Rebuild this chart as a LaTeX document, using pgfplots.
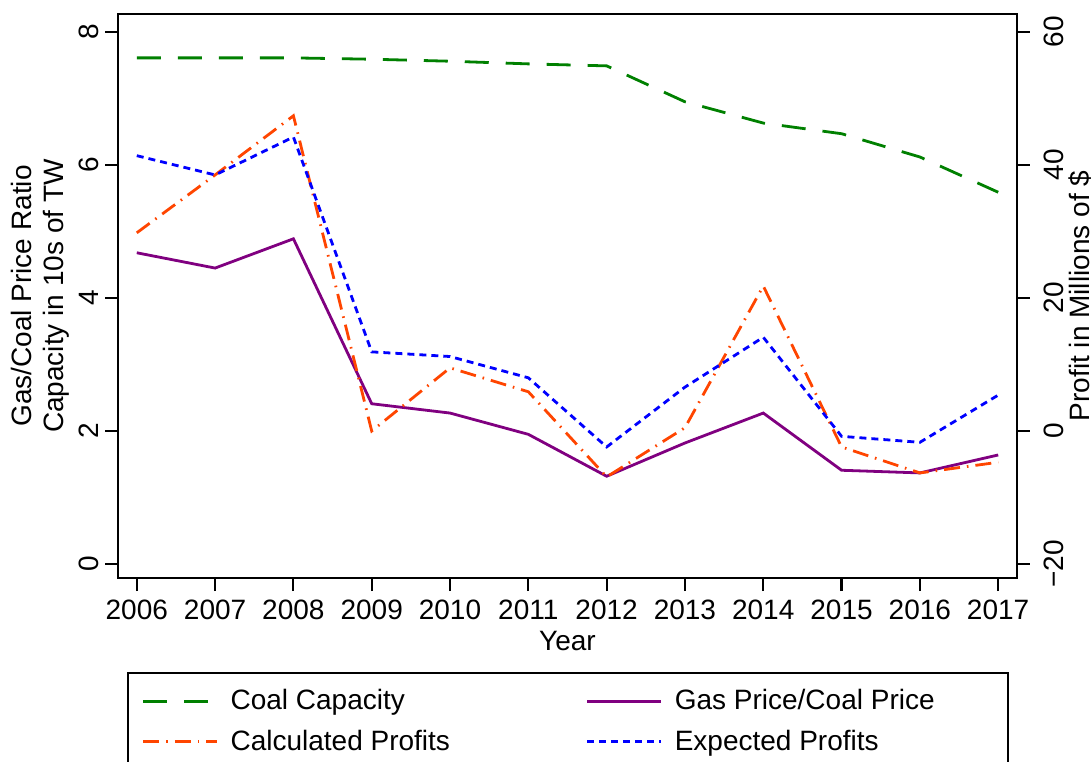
\documentclass[border=0pt]{standalone}
\usepackage{fontspec}
\setmainfont{Liberation Sans}
\usepackage{pgfplots}
\pgfplotsset{compat=1.18}
\definecolor{coalgreen}{RGB}{0,128,0}
\definecolor{gaspurple}{RGB}{128,0,128}
\definecolor{calcorange}{RGB}{255,69,0}
\definecolor{expblue}{RGB}{0,0,255}

\pgfplotsset{
  common/.style={
    scale only axis, width=449.5pt, height=282pt,
    xmin=2005.76, xmax=2017.24,
    tick align=outside, major tick length=6.5pt,
    every tick/.style={black, line width=1.1pt},
    axis line style={line width=1.1pt},
    /pgf/number format/assume math mode=true,
    yticklabel style={rotate=90, anchor=south, inner sep=3pt},
    every axis plot/.append style={line width=1.4pt},
  },
  coalst/.style={coalgreen, dash pattern=on 12pt off 8.5pt},
  gasst/.style={gaspurple},
  calcst/.style={calcorange, dash pattern=on 8pt off 3.5pt on 0.8pt off 3.5pt},
  expst/.style={expblue, dash pattern=on 3.5pt off 2.5pt},
}

\begin{document}
\begin{tikzpicture}[font=\fontsize{14}{16}\selectfont]
  \begin{axis}[common,
      ymin=-0.21, ymax=8.27,
      ytick={0,2,4,6,8}, ytick pos=left, xtick pos=bottom,
      xtick={2006,...,2017},
      xticklabels={2006,2007,2008,2009,2010,2011,2012,2013,2014,2015,2016,2017},
      xticklabel style={yshift=-1pt},
      xlabel={Year}, xlabel style={yshift=1pt},
      ylabel={Gas/Coal Price Ratio\\Capacity in 10s of TW},
      ylabel style={align=center, yshift=-2pt},
      legend columns=2, legend cell align=left,
      legend image code/.code={\draw[#1] (0pt,0pt) -- (37pt,0pt);},
      legend style={draw=none, fill=none, at={(0.026,-0.19)}, anchor=north west,
        inner sep=0pt, row sep=4.5pt,
        /tikz/every odd column/.append style={column sep=4pt},
        /tikz/every even column/.append style={column sep=66pt},
        nodes={inner sep=2pt}},
    ]
    \addplot[coalst] coordinates {(2006,7.61) (2007,7.61) (2008,7.61) (2009,7.59) (2010,7.56) (2011,7.52) (2012,7.49) (2013,6.95) (2014,6.63) (2015,6.47) (2016,6.12) (2017,5.59)};
    \addplot[gasst] coordinates {(2006,4.68) (2007,4.45) (2008,4.89) (2009,2.41) (2010,2.27) (2011,1.95) (2012,1.32) (2013,1.82) (2014,2.27) (2015,1.41) (2016,1.37) (2017,1.64)};
    \addlegendimage{calcst, line width=1.4pt}
    \addlegendimage{expst, line width=1.4pt}
    \legend{Coal Capacity, Gas Price/Coal Price, Calculated Profits, Expected Profits}
  \end{axis}
  \begin{axis}[common,
      ymin=-22.1, ymax=62.7,
      axis x line=none, axis y line*=right,
      ytick={-20,0,20,40,60},
      yticklabels={−20,0,20,40,60},
      yticklabel style={anchor=north},
      yticklabel shift=4pt,
      ylabel={Profit in Millions of \$}, ylabel shift=-0.8pt,
      ylabel style={inner sep=0pt},
    ]
    \addplot[calcst] coordinates {(2006,29.8) (2007,38.5) (2008,47.4) (2009,0) (2010,9.5) (2011,5.9) (2012,-6.9) (2013,0.5) (2014,21.8) (2015,-2.4) (2016,-6.3) (2017,-4.7)};
    \addplot[expst] coordinates {(2006,41.4) (2007,38.5) (2008,44.2) (2009,11.9) (2010,11.2) (2011,8.0) (2012,-2.4) (2013,6.6) (2014,14.1) (2015,-0.8) (2016,-1.7) (2017,5.4)};
  \end{axis}
  \draw[line width=0.8pt] (5pt,-47.5pt) rectangle (445pt,-110pt);
  \pgfresetboundingbox
  \path[use as bounding box] (-59pt,-91.5pt) rectangle (486.5pt,289pt);
\end{tikzpicture}
\end{document}
